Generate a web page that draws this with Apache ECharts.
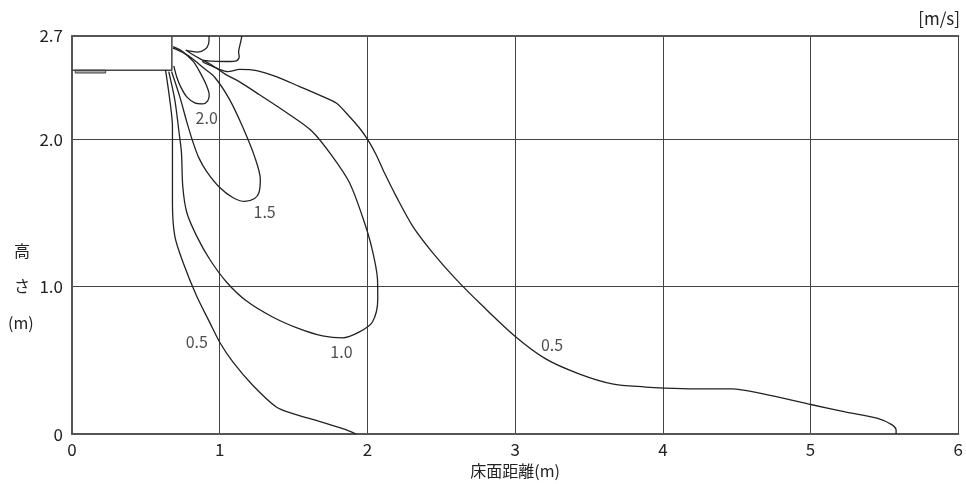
<!DOCTYPE html>
<html>
<head>
<meta charset="utf-8">
<script src="https://cdn.jsdelivr.net/npm/echarts@6/dist/echarts.min.js"></script>
<style>
html, body { margin: 0; padding: 0; background: #fff; }
#main { width: 966px; height: 484px; }
</style>
</head>
<body>
<div id="main"></div>
<script>
// tick labels
const yTickValues = [0, 1, 2, 2.7];
const yTickLabels = ['0', '1.0', '2.0', '2.7'];

// isovelocity contours [floor distance m, height m]
const contour05Far = [
  [1.15, 2.70], [1.14, 2.652], [1.128, 2.591], [1.132, 2.557], [1.113, 2.532],
  [1.054, 2.527], [0.946, 2.530], [0.892, 2.534], [0.885, 2.527], [0.932, 2.503],
  [0.993, 2.476], [1.054, 2.459], [1.135, 2.473], [1.25, 2.465], [1.383, 2.424],
  [1.541, 2.357], [1.698, 2.289], [1.789, 2.245], [1.878, 2.154], [1.946, 2.076],
  [2.002, 1.997], [2.059, 1.895], [2.115, 1.772], [2.194, 1.614], [2.306, 1.411],
  [2.441, 1.231], [2.599, 1.051], [2.779, 0.870], [3.005, 0.659], [3.207, 0.510],
  [3.432, 0.409], [3.657, 0.341], [3.883, 0.319], [4.007, 0.312], [4.221, 0.307],
  [4.468, 0.307], [4.671, 0.274], [5.009, 0.199], [5.234, 0.150], [5.459, 0.105],
  [5.549, 0.064], [5.579, 0.026], [5.579, 0]
];
const contour05Near = [
  [0.633, 2.470], [0.662, 2.267], [0.680, 2.086], [0.680, 1.861], [0.680, 1.569],
  [0.696, 1.343], [0.752, 1.164], [0.843, 0.938], [0.932, 0.758], [1.0, 0.623],
  [1.090, 0.488], [1.225, 0.330], [1.383, 0.184], [1.495, 0.139], [1.653, 0.093],
  [1.833, 0.037], [1.924, 0]
];
const contour10 = [
  [0.928, 2.70], [0.924, 2.645], [0.899, 2.608], [0.851, 2.591], [0.797, 2.598],
  [0.770, 2.605], [0.811, 2.578], [0.865, 2.547], [0.946, 2.503], [1.034, 2.443],
  [1.135, 2.389], [1.270, 2.301], [1.473, 2.166], [1.628, 2.051], [1.764, 1.882],
  [1.878, 1.706], [1.966, 1.476], [2.027, 1.274], [2.068, 1.051], [2.070, 0.916],
  [2.034, 0.760], [1.946, 0.693], [1.831, 0.652], [1.696, 0.666], [1.541, 0.713],
  [1.358, 0.794], [1.182, 0.902], [1.047, 1.030], [0.932, 1.186], [0.845, 1.341],
  [0.777, 1.503], [0.750, 1.679], [0.741, 1.909], [0.725, 2.044], [0.696, 2.267],
  [0.655, 2.459]
];
const contour15 = [
  [0.684, 2.618], [0.750, 2.589], [0.818, 2.544], [0.885, 2.488], [0.966, 2.420],
  [1.068, 2.267], [1.155, 2.084], [1.236, 1.882], [1.275, 1.726], [1.266, 1.639],
  [1.236, 1.598], [1.169, 1.578], [1.088, 1.605], [1.0, 1.672], [0.912, 1.780],
  [0.858, 1.875], [0.818, 1.983], [0.777, 2.118], [0.730, 2.287], [0.674, 2.459]
];
const contour20 = [
  [0.684, 2.628], [0.741, 2.600], [0.784, 2.564], [0.824, 2.524], [0.872, 2.443],
  [0.912, 2.361], [0.929, 2.301], [0.919, 2.260], [0.885, 2.240], [0.831, 2.247],
  [0.777, 2.287], [0.736, 2.355], [0.709, 2.422], [0.689, 2.497]
];

// contour value labels
const labelTexts = ['2.0', '1.5', '0.5', '1.0', '0.5'];
const labelPositions = [[0.912, 2.145], [1.304, 1.51], [0.845, 0.625], [1.824, 0.557], [3.25, 0.605]];

// indoor unit outline and grille
const unitOutline = [[0, 2.468], [0.676, 2.468], [0.676, 2.7]];
const grille = [[0.022, 2.449], [0.228, 2.468]];

const FONT = '"Noto Sans CJK JP", "Noto Sans", sans-serif';
const chart = echarts.init(document.getElementById('main'));

function contourSeries(data) {
  return {
    type: 'line',
    data: data,
    smooth: 0.3,
    showSymbol: false,
    silent: true,
    lineStyle: { color: '#222', width: 1.3 }
  };
}

const option = {
  backgroundColor: '#fff',
  animation: false,
  textStyle: { fontFamily: FONT },
  grid: { left: 72, right: 6, top: 36, bottom: 48.5 },
  xAxis: [
    {
      type: 'value', min: 0, max: 6, interval: 1,
      name: '床面距離(m)', nameLocation: 'middle', nameGap: 25,
      nameTextStyle: { fontSize: 16, color: '#222', fontFamily: FONT },
      axisLine: { show: true, lineStyle: { color: '#555', width: 2 } },
      axisTick: { show: false },
      axisLabel: { fontSize: 17, color: '#222', margin: 7, fontFamily: FONT },
      splitLine: { show: true, lineStyle: { color: '#444', width: 1 } }
    },
    {
      type: 'value', min: 0, max: 6, position: 'top',
      axisLine: { show: true, lineStyle: { color: '#555', width: 2 } },
      axisTick: { show: false }, axisLabel: { show: false }, splitLine: { show: false }
    }
  ],
  yAxis: {
    type: 'value', min: 0, max: 2.7, interval: 1,
    axisLine: { show: true, lineStyle: { color: '#555', width: 2 } },
    axisTick: { show: false },
    axisLabel: {
      fontSize: 17, color: '#222', margin: 9, fontFamily: FONT,
      formatter: function (v) {
        const i = yTickValues.findIndex(t => Math.abs(t - v) < 1e-6);
        return i >= 0 ? yTickLabels[i] : '';
      }
    },
    splitLine: { show: true, lineStyle: { color: '#444', width: 1 } }
  },
  graphic: [
    { type: 'text', right: 6, top: 10, style: { text: '[m/s]', font: '17px ' + FONT, fill: '#222' } },
    { type: 'text', left: 14, top: 243, style: { text: '高', font: '16px ' + FONT, fill: '#222' } },
    { type: 'text', left: 14, top: 278, style: { text: 'さ', font: '16px ' + FONT, fill: '#222' } },
    { type: 'text', left: 8, top: 315, style: { text: '(m)', font: '16px ' + FONT, fill: '#222' } }
  ],
  series: [
    {
      type: 'line',
      data: unitOutline,
      showSymbol: false,
      silent: true,
      lineStyle: { color: '#444', width: 1.5 },
      markArea: {
        silent: true,
        itemStyle: { color: '#aaa', borderColor: '#444', borderWidth: 1 },
        data: [[{ coord: grille[0] }, { coord: grille[1] }]]
      }
    },
    contourSeries(contour05Far),
    contourSeries(contour05Near),
    contourSeries(contour10),
    contourSeries(contour15),
    contourSeries(contour20),
    {
      type: 'scatter',
      symbolSize: 0,
      silent: true,
      data: labelPositions.map((p, i) => ({ value: p, name: labelTexts[i] })),
      label: {
        show: true, position: 'inside', formatter: '{b}',
        fontSize: 16, color: '#222', fontFamily: FONT
      }
    }
  ]
};
chart.setOption(option);
</script>
</body>
</html>
